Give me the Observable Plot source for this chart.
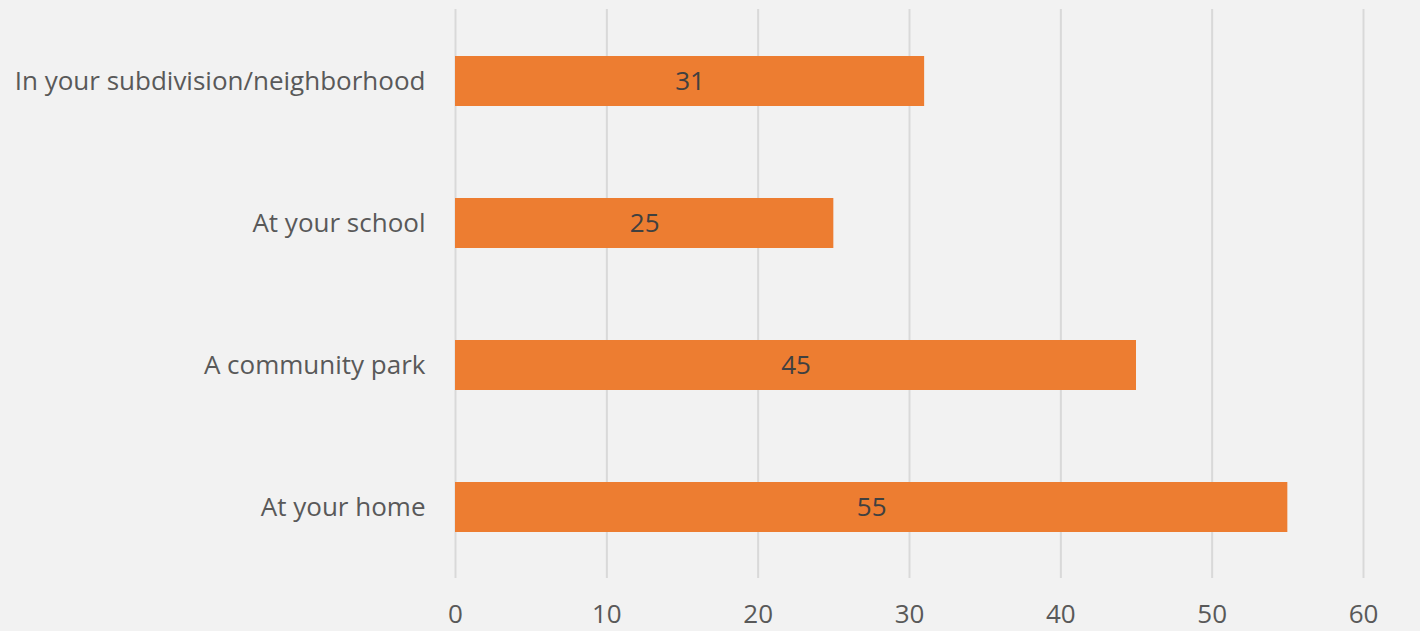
<!DOCTYPE html>
<html>
<head>
<meta charset="utf-8">
<script src="https://cdn.jsdelivr.net/npm/d3@7"></script>
<script src="https://cdn.jsdelivr.net/npm/@observablehq/plot@0.6"></script>
<style>
  html, body { margin: 0; padding: 0; background: #f2f2f2; }
  #chart svg { display: block; }
</style>
</head>
<body>
<div id="chart"></div>
<script>
const categories = ["In your subdivision/neighborhood", "At your school", "A community park", "At your home"];
const values = [31, 25, 45, 55];
const xTicks = [0, 10, 20, 30, 40, 50, 60];

const data = categories.map((c, i) => ({category: c, value: values[i]}));

const chart = Plot.plot({
  width: 1420,
  height: 631,
  marginTop: 9,
  marginBottom: 53,
  marginLeft: 455,
  marginRight: 57,
  style: {background: "#f2f2f2", fontFamily: "'Open Sans', sans-serif", fontSize: "26px", color: "#595959"},
  x: {domain: [0, 60], ticks: xTicks, grid: true, label: null, tickSize: 0, tickPadding: 26},
  y: {domain: categories, paddingInner: 0.65, paddingOuter: 0.325, label: null, tickSize: 0, tickPadding: 30},
  marks: [
    Plot.gridX(xTicks, {stroke: "#d9d9d9", strokeOpacity: 1, strokeWidth: 2}),
    Plot.barX(data, {y: "category", x: "value", fill: "#ed7d31"}),
    Plot.text(data, {y: "category", x: d => d.value / 2, text: d => String(d.value), fill: "#404040", fontSize: 26}),
    Plot.axisX({ticks: xTicks, tickSize: 0, tickPadding: 26, fontSize: 26, fill: "#595959"}),
    Plot.axisY({tickSize: 0, tickPadding: 30, fontSize: 26, fill: "#595959"})
  ]
});
document.getElementById("chart").appendChild(chart);
</script>
</body>
</html>
